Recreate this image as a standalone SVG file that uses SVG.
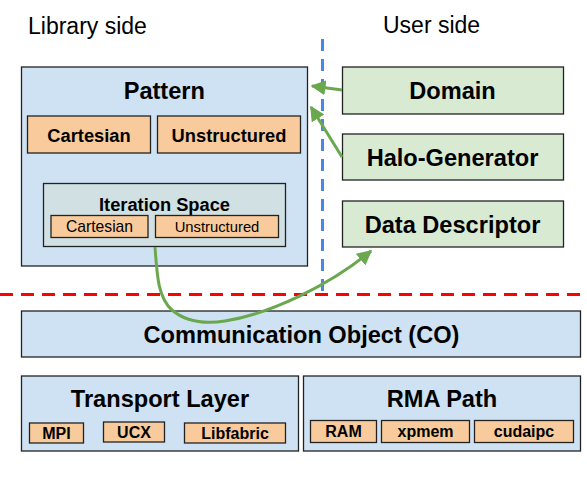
<svg xmlns="http://www.w3.org/2000/svg" width="587" height="488" viewBox="0 0 587 488">
<style>
text{font-family:"Liberation Sans",Arial,sans-serif;fill:#000;text-anchor:middle}
.big{font-size:23.6px;font-weight:bold}
.mid{font-size:18.3px;font-weight:bold}
.sm{font-size:16px;font-weight:bold}
.plain{font-size:15.2px}
.side{font-size:23px;text-anchor:start}
.blue{fill:#cfe2f3;stroke:#222;stroke-width:1.3}
.org{fill:#f9cb9c;stroke:#222;stroke-width:1.3}
.grn{fill:#d9ead3;stroke:#222;stroke-width:1.3}
.itr{fill:#d0e0e3;stroke:#222;stroke-width:1.3}
.con{fill:none;stroke:#6aa84f;stroke-width:3}
</style>
<defs>
<marker id="ah" viewBox="0 0 10 10" refX="9" refY="5" markerWidth="5" markerHeight="5" orient="auto">
<path d="M0,0 L10,5 L0,10 Z" fill="#6aa84f"/>
</marker>
</defs>
<rect width="587" height="488" fill="#fff"/>
<text class="side" x="28" y="34">Library side</text>
<text class="side" x="383" y="33">User side</text>
<g id="separators">
<line x1="322.5" y1="39" x2="322.5" y2="292" stroke="#4a86e8" stroke-width="3" stroke-dasharray="12,8"/>
<line x1="0" y1="294.5" x2="582" y2="294.5" stroke="#ff0000" stroke-width="3" stroke-dasharray="13,8"/>
</g>
<g id="pattern">
<rect class="blue" x="21.5" y="67" width="286" height="199"/>
<text class="big" x="164.3" y="99">Pattern</text>
<rect class="org" x="27.5" y="116" width="123" height="37"/>
<text class="mid" x="89" y="142">Cartesian</text>
<rect class="org" x="157.5" y="116" width="143" height="37"/>
<text class="mid" x="229" y="142">Unstructured</text>
</g>
<g id="iteration-space">
<rect class="itr" x="43.5" y="183.5" width="242" height="63"/>
<text class="mid" x="164.5" y="211">Iteration Space</text>
<rect class="org" x="51" y="215.5" width="97" height="22"/>
<text class="plain" x="99.5" y="232" style="font-size:15.7px">Cartesian</text>
<rect class="org" x="155.5" y="215.5" width="123" height="22"/>
<text class="plain" x="217" y="232" style="font-size:14.8px">Unstructured</text>
</g>
<g id="domain">
<rect class="grn" x="342.5" y="67" width="221" height="47"/>
<text class="big" x="452.5" y="99">Domain</text>
</g>
<g id="halo-generator">
<rect class="grn" x="342.5" y="134" width="221" height="46"/>
<text class="big" x="452.5" y="166">Halo-Generator</text>
</g>
<g id="data-descriptor">
<rect class="grn" x="342.5" y="201" width="221" height="46"/>
<text class="big" x="452.5" y="232.5">Data Descriptor</text>
</g>
<g id="communication-object">
<rect class="blue" x="21.5" y="311" width="559" height="46"/>
<text class="big" x="301.5" y="342.5">Communication Object (CO)</text>
</g>
<g id="transport-layer">
<rect class="blue" x="21.5" y="376" width="277" height="75"/>
<text class="big" x="160" y="407">Transport Layer</text>
<rect class="org" x="29.5" y="423" width="54" height="20"/>
<text class="sm" x="56.5" y="439">MPI</text>
<rect class="org" x="103.5" y="422" width="61" height="20"/>
<text class="sm" x="134" y="438">UCX</text>
<rect class="org" x="184.5" y="423" width="101" height="20"/>
<text class="sm" x="235" y="439">Libfabric</text>
</g>
<g id="rma-path">
<rect class="blue" x="303.5" y="376" width="277" height="75"/>
<text class="big" x="442" y="407">RMA Path</text>
<rect class="org" x="310.5" y="420.5" width="66" height="22"/>
<text class="sm" x="343.5" y="437">RAM</text>
<rect class="org" x="381.5" y="420.5" width="88" height="22"/>
<text class="sm" x="425.5" y="437">xpmem</text>
<rect class="org" x="474.5" y="420.5" width="99" height="22"/>
<text class="sm" x="524" y="437">cudaipc</text>
</g>
<g id="connectors">
<path class="con" d="M342,90 L312,86" marker-end="url(#ah)"/>
<path class="con" d="M342,157 L311,107" marker-end="url(#ah)"/>
<path class="con" d="M155,247 C157,275 158,298 172,310 C186,322 205,324 225,321 C270,314 330,285 371,251" marker-end="url(#ah)"/>
</g>
</svg>
